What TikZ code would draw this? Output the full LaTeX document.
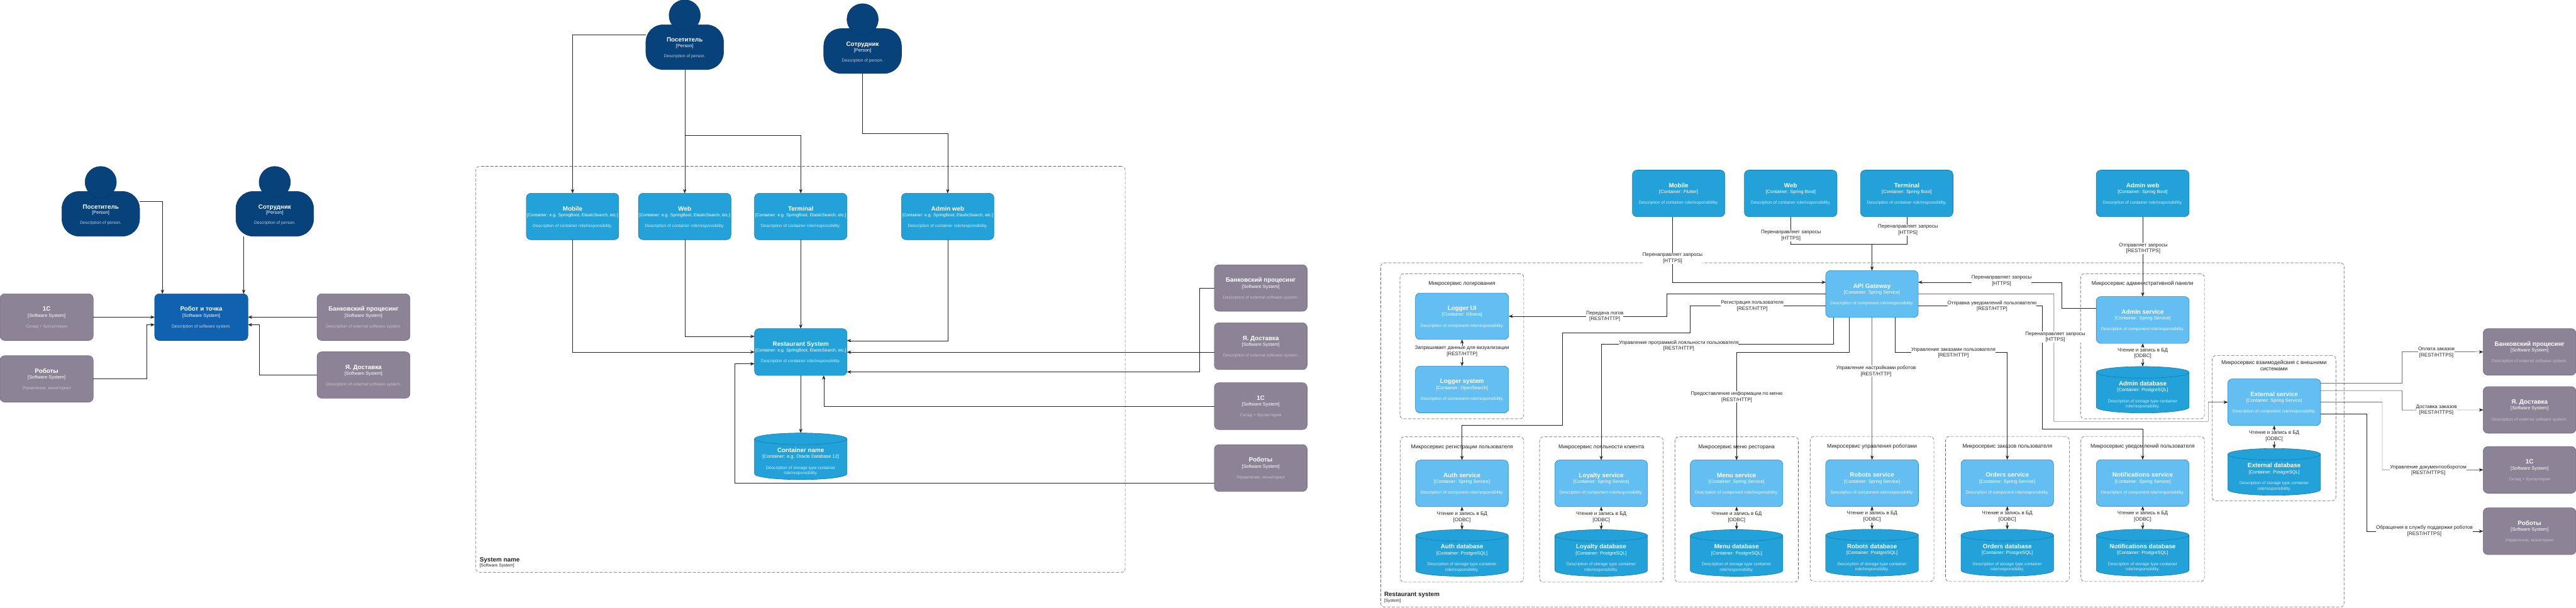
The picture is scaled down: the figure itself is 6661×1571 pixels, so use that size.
\documentclass[tikz,border=0pt]{standalone}
\usepackage{fontspec}
\setmainfont{Liberation Sans}
\usetikzlibrary{arrows.meta}
\newlength{\upx}\setlength{\upx}{0.01cm}
\definecolor{perF}{HTML}{08427B}\definecolor{perS}{HTML}{073B6F}
\definecolor{sysF}{HTML}{1061B0}\definecolor{sysS}{HTML}{0D5091}
\definecolor{conF}{HTML}{23A2D9}\definecolor{conS}{HTML}{0E7DAD}
\definecolor{cmpF}{HTML}{63BEF2}\definecolor{cmpS}{HTML}{2086C9}
\definecolor{extF}{HTML}{8C8496}\definecolor{extS}{HTML}{736782}
\definecolor{frm}{HTML}{666666}
\definecolor{lab}{HTML}{222222}
\colorlet{perD}{white!72!perF}
\colorlet{sysD}{white!75!sysF}
\colorlet{conD}{white!80!conF}
\colorlet{cmpD}{white!90!cmpF}
\colorlet{extD}{white!50!extF}
\newcommand{\fpx}[1]{\fontsize{#1\upx}{#1\upx}\selectfont}
\newcommand{\lnc}[2]{\vskip#1\upx\hbox to\hsize{\hss\smash{#2}\hss}}
\newcommand{\lnl}[3]{\vskip#1\upx\hbox to\hsize{\hskip#2\upx\smash{#3}\hss}}
\newcommand{\ttl}[1]{{\fpx{16}\bfseries\color{white}#1}}
\newcommand{\typ}[1]{{\fpx{12}\color{white}#1}}
\newcommand{\dsc}[2]{{\fpx{11}\color{#1}#2}}
\newcommand{\bc}[4]{\lnc{45}{\ttl{#2}}\lnc{15}{\typ{#3}}\lnc{28}{\dsc{#1}{#4}}}
\newcommand{\pc}[3]{\lnc{45}{\ttl{#1}}\lnc{14.5}{\typ{#2}}\lnc{26}{\dsc{perD}{#3}}}
\newcommand{\dc}[5]{\lnc{49.5}{\ttl{#2}}\lnc{15.5}{\typ{#3}}\lnc{28.5}{\dsc{#1}{#4}}\lnc{13.5}{\dsc{#1}{#5}}}
\newcommand{\fc}[1]{\lnc{30}{{\fpx{14}\color{lab}#1}}}
% rectangular block: name, style, x1, y1, x2, y2, content
\newcommand{\blk}[7]{%
  \pgfmathsetlengthmacro{\bw}{(#5-#3)*0.284528}%
  \pgfmathsetlengthmacro{\bh}{(#6-#4)*0.284528}%
  \pgfmathsetmacro{\cxx}{(#3+#5)/2}\pgfmathsetmacro{\cyy}{(#4+#6)/2}%
  \node[#2,minimum width=\bw,minimum height=\bh] (#1) at (\cxx,\cyy)
    {\vbox to \bh{\hsize=\bw\offinterlineskip #7\vss}};}
% cylinder: name, x1, y1, x2, y2, content
\newcommand{\cyl}[6]{%
  \pgfmathsetmacro{\cxm}{(#2+#4)/2}\pgfmathsetmacro{\kxx}{0.5523*(#4-#2)/2}%
  \pgfmathsetmacro{\cxl}{\cxm-\kxx}\pgfmathsetmacro{\cxr}{\cxm+\kxx}%
  \pgfmathsetmacro{\yma}{#3+15}\pgfmathsetmacro{\ynb}{#5-15}%
  \pgfmathsetmacro{\ymu}{#3+6.7}\pgfmathsetmacro{\ymd}{#3+23.3}\pgfmathsetmacro{\yee}{#3+30}%
  \pgfmathsetmacro{\ynd}{#5-6.7}%
  \draw[cylbody] (#2,\yma) .. controls (#2,\ymu) and (\cxl,#3) .. (\cxm,#3)
     .. controls (\cxr,#3) and (#4,\ymu) .. (#4,\yma) -- (#4,\ynb)
     .. controls (#4,\ynd) and (\cxr,#5) .. (\cxm,#5)
     .. controls (\cxl,#5) and (#2,\ynd) .. (#2,\ynb) -- cycle;
  \draw[cylbody,fill=none] (#2,\yma) .. controls (#2,\ymd) and (\cxl,\yee) .. (\cxm,\yee)
     .. controls (\cxr,\yee) and (#4,\ymd) .. (#4,\yma);
  \blk{#1}{blockbase}{#2}{#3}{#4}{#5}{#6}}
% person: name, x1, bodytop, x2, content
\newcommand{\prs}[5]{%
  \pgfmathsetmacro{\pyy}{#3+116}\pgfmathsetmacro{\hxx}{(#2+#4)/2}\pgfmathsetmacro{\hyy}{#3-24}%
  \blk{#1}{per}{#2}{#3}{#4}{\pyy}{#5}
  \node[head] (#1-head) at (\hxx,\hyy) {};}
\newcommand{\elab}[4]{\node[lbl] (#1) at (#2) {#3\\{[#4]}};}
\tikzset{
  thinline/.style={line width=0.2845pt},
  blockbase/.style={rectangle,inner sep=0pt,outer sep=0pt,thinline},
  per/.style={blockbase,draw=perS,fill=perF,rounded corners=0.45cm},
  head/.style={circle,inner sep=0pt,outer sep=0pt,minimum size=0.81cm,draw=perS,fill=perF,thinline},
  sysb/.style={blockbase,draw=sysS,fill=sysF,rounded corners=0.12cm},
  conb/.style={blockbase,draw=conS,fill=conF,rounded corners=0.12cm},
  cmpb/.style={blockbase,draw=cmpS,fill=cmpF,rounded corners=0.12cm},
  extb/.style={blockbase,draw=extS,fill=extF,rounded corners=0.12cm},
  cylbody/.style={draw=conS,fill=conF,thinline},
  frameb/.style={blockbase,draw=frm,rounded corners=0.1cm,dash pattern=on 2.28pt off 1.14pt},
  lnk/.style={draw=lab,line width=0.2pt},
  conn/.style={lnk,-{Stealth[length=3.1pt,width=2.4pt]}},
  both/.style={lnk,{Stealth[length=3.1pt,width=2.4pt]}-{Stealth[length=3.1pt,width=2.4pt]}},
  lbl/.style={fill=white,inner xsep=0pt,inner ysep=0.28pt,outer sep=0pt,align=center,text=lab,
     font=\fontsize{13\upx}{15.5\upx}\selectfont},
}
\newcommand{\svc}[2]{\bc{cmpD}{#1}{[Container: #2]}{Description of component role/responsibility.}}
\newcommand{\dbc}[1]{\dc{conD}{#1}{[Container: PostgreSQL]}{Description of storage type container}{role/responsibility.}}
\newcommand{\ctn}[2]{\bc{conD}{#1}{[Container: #2]}{Description of container role/responsibility.}}
\newcommand{\exs}[2]{\bc{extD}{#1}{[Software System]}{#2}}
\newcommand{\dsk}{Description of external software system.}
\newcommand{\cte}[1]{\lnc{45}{\ttl{#1}}\lnc{15}{{\fpx{11}\color{white}[Container: e.g. SpringBoot, ElasticSearch, etc.]}}\lnc{28}{\dsc{conD}{Description of container role/responsibility.}}}
\begin{document}
\begin{tikzpicture}[x=0.01cm,y=-0.01cm]
\useasboundingbox (0,0) rectangle (6661,1571);
\fill[white] (0,0) rectangle (6661,1571);
% ---------- frames
\blk{f-sysb}{frameb}{1231}{430.5}{2909}{1480}{\lnl{1023}{10}{{\fpx{16}\bfseries\color{lab}System name}}\lnl{13.5}{10}{{\fpx{11}\color{lab}[Software System]}}}
\blk{f-sysc}{frameb}{3571}{680}{6060.5}{1570}{\lnl{863}{9}{{\fpx{16}\bfseries\color{lab}Restaurant system}}\lnl{14.5}{9}{{\fpx{11}\color{lab}[System]}}}
\blk{f-log}{frameb}{3620}{708}{3940}{1083}{\fc{Микросервис логирования}}
\blk{f-adm}{frameb}{5380}{708}{5700}{1083}{\fc{Микросервис административной панели}}
\blk{f-ext}{frameb}{5720}{920}{6040}{1295}{\lnc{22}{{\fpx{14}\color{lab}Микросервис взаимодейсвия с внешними}}\lnc{17}{{\fpx{14}\color{lab}системами}}}
\blk{f-auth}{frameb}{3621}{1130}{3940}{1505.5}{\fc{Микросервис регистрации пользователя}}
\blk{f-loy}{frameb}{3981}{1130}{4300.5}{1505.5}{\fc{Микросервис лояльности клиента}}
\blk{f-menu}{frameb}{4331}{1130}{4650}{1505.5}{\fc{Микросервис меню ресторана}}
\blk{f-rob}{frameb}{4680.7}{1129}{5000.6}{1504}{\fc{Микросервис управления роботами}}
\blk{f-ord}{frameb}{5030.7}{1129}{5350.6}{1504}{\fc{Микросервис заказов пользователя}}
\blk{f-not}{frameb}{5380.8}{1129}{5700}{1504}{\fc{Микросервис уведомлений пользователя}}
% ---------- context diagram
\prs{a-visitor}{160}{495}{361}{\pc{Посетитель}{[Person]}{Description of person.}}
\prs{a-staff}{610}{495}{811}{\pc{Сотрудник}{[Person]}{Description of person.}}
\blk{a-1c}{extb}{0.2}{760}{241}{880.5}{\exs{1C}{Склад + бухгалтерия}}
\blk{a-core}{sysb}{400}{760}{641}{880.5}{\bc{sysD}{Робот и точка}{[Software System]}{Description of software system.}}
\blk{a-bank}{extb}{820}{760}{1060}{880.5}{\exs{Банковский процесинг}{\dsk}}
\blk{a-robots}{extb}{0.2}{920}{241}{1040}{\exs{Роботы}{Управление, мониторинг}}
\blk{a-yandex}{extb}{820}{910}{1060}{1030}{\exs{Я. Доставка}{\dsk}}
% ---------- container diagram
\prs{b-visitor}{1670}{64}{1871}{\pc{Посетитель}{[Person]}{Description of person.}}
\prs{b-staff}{2130}{74}{2331}{\pc{Сотрудник}{[Person]}{Description of person.}}
\blk{b-mobile}{conb}{1361}{500}{1600}{620}{\cte{Mobile}}
\blk{b-web}{conb}{1651}{500}{1890}{620}{\cte{Web}}
\blk{b-terminal}{conb}{1951}{500}{2190}{620}{\cte{Terminal}}
\blk{b-admin}{conb}{2331}{500}{2570}{620}{\cte{Admin web}}
\blk{b-core}{conb}{1951}{850}{2190}{971}{\cte{Restaurant System}}
\cyl{b-store}{1951}{1120}{2190}{1240.5}{\dc{conD}{Container name}{[Container: e.g. Oracle Database 12]}{Description of storage type container}{role/responsibility.}}
\blk{b-bank}{extb}{3140}{685}{3380}{805}{\exs{Банковский процесинг}{\dsk}}
\blk{b-yandex}{extb}{3140}{835}{3380}{956}{\exs{Я. Доставка}{\dsk}}
\blk{b-1c}{extb}{3140}{990}{3380}{1111}{\exs{1C}{Склад + бухгалтерия}}
\blk{b-robots}{extb}{3140}{1150}{3380}{1271}{\exs{Роботы}{Управление, мониторинг}}
% ---------- component diagram
\blk{c-mobile}{conb}{4221}{440}{4460}{560.5}{\ctn{Mobile}{Flutter}}
\blk{c-web}{conb}{4510.5}{440}{4750}{560.5}{\ctn{Web}{Spring Boot}}
\blk{c-term}{conb}{4811}{440}{5050}{560.5}{\ctn{Terminal}{Spring Boot}}
\blk{c-admweb}{conb}{5420.5}{440}{5660.5}{560.5}{\ctn{Admin web}{Spring Boot}}
\blk{c-api}{cmpb}{4721}{700}{4960}{821}{\svc{API Gateway}{Spring Service}}
\blk{c-logui}{cmpb}{3660}{758}{3901}{878}{\svc{Logger UI}{Kibana}}
\blk{c-logsys}{cmpb}{3660}{947}{3901}{1068}{\svc{Logger system}{OpenSearch}}
\blk{c-admsvc}{cmpb}{5420.5}{767}{5660.5}{888}{\svc{Admin service}{Spring Service}}
\cyl{c-admdb}{5420.5}{948}{5660.5}{1068}{\dbc{Admin database}}
\blk{c-extsvc}{cmpb}{5760.5}{980}{6000.5}{1100.5}{\svc{External service}{Spring Service}}
\cyl{c-extdb}{5760.5}{1160}{6000.5}{1281}{\dbc{External database}}
\blk{c-auth}{cmpb}{3660.7}{1190}{3900}{1310.5}{\svc{Auth service}{Spring Service}}
\cyl{c-authdb}{3660.7}{1370}{3900}{1490.5}{\dbc{Auth database}}
\blk{c-loy}{cmpb}{4020.7}{1190}{4260}{1310.5}{\svc{Loyalty service}{Spring Service}}
\cyl{c-loydb}{4020.7}{1370}{4260}{1490.5}{\dbc{Loyalty database}}
\blk{c-menu}{cmpb}{4370.8}{1190}{4610}{1310.5}{\svc{Menu service}{Spring Service}}
\cyl{c-menudb}{4370.8}{1370}{4610}{1490.5}{\dbc{Menu database}}
\blk{c-rob}{cmpb}{4720.7}{1189}{4960.6}{1309.5}{\svc{Robots service}{Spring Service}}
\cyl{c-robdb}{4720.7}{1369}{4960.6}{1490}{\dbc{Robots database}}
\blk{c-ord}{cmpb}{5070.7}{1189}{5310}{1309.5}{\svc{Orders service}{Spring Service}}
\cyl{c-orddb}{5070.7}{1369}{5310}{1490}{\dbc{Orders database}}
\blk{c-not}{cmpb}{5420.8}{1189}{5660}{1309.5}{\svc{Notifications service}{Spring Service}}
\cyl{c-notdb}{5420.8}{1369}{5660}{1490}{\dbc{Notifications database}}
\blk{c-bank}{extb}{6421}{850}{6660.7}{970.5}{\exs{Банковский процесинг}{\dsk}}
\blk{c-yandex}{extb}{6421}{1000}{6660.7}{1120.5}{\exs{Я. Доставка}{\dsk}}
\blk{c-1c}{extb}{6421}{1155}{6660.7}{1275.7}{\exs{1C}{Склад + бухгалтерия}}
\blk{c-robots}{extb}{6421}{1313.5}{6660.7}{1434.5}{\exs{Роботы}{Управление, мониторинг}}
% ---------- connectors, context
\draw[conn] (a-visitor.east |- 0,520) -| (420,0 |- a-core.north);
\draw[conn] (630,0 |- a-staff.south) -- (630,0 |- a-core.north);
\draw[conn] (a-1c.east) -- (a-core.west);
\draw[conn] (a-bank.west) -- (a-core.east);
\draw[conn] (a-robots.east) -| (380,840) -- (a-core.west |- 0,840);
\draw[conn] (a-yandex.west) -| (670,840) -- (a-core.east |- 0,840);
% ---------- connectors, containers
\draw[conn] (b-visitor.west |- 0,90) -| (b-mobile.north);
\draw[conn] (b-visitor.south) -- (b-web.north);
\draw[conn] (b-visitor.south) |- (b-terminal.north |- 0,350.5) -- (b-terminal.north);
\draw[conn] (b-staff.south) |- (b-admin.north |- 0,345) -- (b-admin.north);
\draw[conn] (b-mobile.south) |- (b-core.west);
\draw[conn] (b-web.south) |- (b-core.west |- 0,870);
\draw[conn] (b-terminal.south) -- (b-core.north);
\draw[conn] (b-admin.south) |- (b-core.east |- 0,881);
\draw[conn] (b-bank.west) -| (3101,962) -- (b-core.east |- 0,962);
\draw[conn] (b-yandex.west |- 0,911) -- (b-core.east |- 0,911);
\draw[conn] (b-1c.west) -| (2130,0 |- b-core.south);
\draw[conn] (b-robots.west |- 0,1250) -| (1900,941) -- (b-core.west |- 0,941);
\draw[conn] (b-core.south) -- (b-store.north);
% ---------- connectors, components
\draw[conn] (4325,0 |- c-mobile.south) |- (c-api.west |- 0,730);
\draw[conn] (c-web.south) |- (c-api.north |- 0,631) -- (c-api.north);
\draw[lnk] (c-term.south) |- (c-api.north |- 0,631);
\draw[conn] (c-admweb.south) -- (c-admsvc.north);
\draw[conn] (c-api.west |- 0,760.5) -| (4310,818) -- (c-logui.east);
\draw[both] (c-logui.south) -- (c-logsys.north);
\draw[conn] (c-api.west |- 0,790) -| (4370,860.4) -| (4040,1100) -| (c-auth.north);
\draw[conn] (4741,0 |- c-api.south) |- (c-loy.north |- 0,890.6) -- (c-loy.north);
\draw[conn] (4781,0 |- c-api.south) |- (c-menu.north |- 0,910.5) -- (c-menu.north);
\draw[conn] (c-api.south) -- (c-rob.north);
\draw[conn] (4900.6,0 |- c-api.south) |- (c-ord.north |- 0,910.5) -- (c-ord.north);
\draw[conn] (c-api.east |- 0,790) -| (5280.5,1110) -| (c-not.north);
\draw[conn] (c-api.east |- 0,760.5) -| (5311,1090) -| (5710,1040.3) -- (c-extsvc.west);
\draw[conn] (c-admsvc.west |- 0,798) -| (5330.6,730) -- (c-api.east |- 0,730);
\draw[both] (c-admsvc.south) -- (c-admdb.north);
\draw[both] (c-extsvc.south) -- (c-extdb.north);
\draw[both] (c-auth.south) -- (c-authdb.north);
\draw[both] (c-loy.south) -- (c-loydb.north);
\draw[both] (c-menu.south) -- (c-menudb.north);
\draw[both] (c-rob.south) -- (c-robdb.north);
\draw[both] (c-ord.south) -- (c-orddb.north);
\draw[both] (c-not.south) -- (c-notdb.north);
\draw[conn] (c-extsvc.east |- 0,991.5) -| (6211,910) -- (c-bank.west);
\draw[conn] (c-extsvc.east |- 0,1010) -| (6211,1060.5) -- (c-yandex.west);
\draw[conn] (c-extsvc.east) -| (6160,1215) -- (c-1c.west);
\draw[conn] (c-extsvc.east |- 0,1070) -| (6120,1374) -- (c-robots.west);
% ---------- labels
\elab{l-mob}{4325,667.75}{Перенаправляет запросы}{HTTPS}
\elab{l-web}{4631,609.5}{Перенаправляет запросы}{HTTPS}
\elab{l-term}{4933.5,594.5}{Перенаправляет запросы}{HTTPS}
\elab{l-adm}{5542,642.3}{Отправляет запросы}{REST/HTTPS}
\elab{l-log}{4149.5,818.3}{Передача логов}{REST/HTTP}
\elab{l-logui}{3780.5,908.3}{Запрашивает данные для визуализации}{REST/HTTP}
\elab{l-reg}{4531,791.7}{Регистрация пользователя}{REST/HTTP}
\elab{l-loy}{4341,894.4}{Управление программой лояльности пользователя}{REST/HTTP}
\elab{l-menu}{4490.7,1026.5}{Предоставление информации по меню}{REST/HTTP}
\elab{l-rob}{4851,959.7}{Управление настройками роботов}{REST/HTTP}
\elab{l-ord}{5051,912.4}{Управление заказами пользователя}{REST/HTTP}
\elab{l-not}{5151,791.7}{Отправка уведомлений пользователю}{REST/HTTP}
\elab{l-ext}{5314.5,871.5}{Перенаправляет запросы}{HTTPS}
\elab{l-back}{5175.6,726.4}{Перенаправляет запросы}{HTTPS}
\elab{l-pay}{6300,911.3}{Оплата заказов}{REST/HTTPS}
\elab{l-del}{6300,1060.5}{Доставка заказов}{REST/HTTPS}
\elab{l-doc}{6279,1216.4}{Управление документооборотом}{REST/HTTPS}
\elab{l-sup}{6269,1373.3}{Обращения в службу поддержки роботов}{REST/HTTPS}
\elab{l-d1}{5540.5,914.3}{Чтение и запись в БД}{ODBC}
\elab{l-d2}{5880.5,1127.75}{Чтение и запись в БД}{ODBC}
\elab{l-d3}{3780.4,1337.3}{Чтение и запись в БД}{ODBC}
\elab{l-d4}{4140.4,1337.3}{Чтение и запись в БД}{ODBC}
\elab{l-d5}{4490.4,1337.3}{Чтение и запись в БД}{ODBC}
\elab{l-d6}{4840.7,1336.3}{Чтение и запись в БД}{ODBC}
\elab{l-d7}{5190.4,1336.3}{Чтение и запись в БД}{ODBC}
\elab{l-d8}{5540.4,1336.3}{Чтение и запись в БД}{ODBC}
\end{tikzpicture}
\end{document}
